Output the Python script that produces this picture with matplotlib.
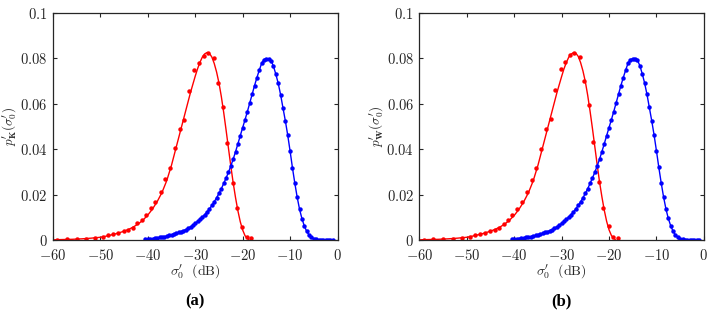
import numpy as np
import matplotlib
matplotlib.use("Agg")
import matplotlib.pyplot as plt

plt.rcParams['mathtext.fontset'] = 'cm'
plt.rcParams['font.family'] = ['DejaVu Serif']

# ---- data ---------------------------------------------------------------
# measured histogram points (red), panel (a)
red_dot_db = [-59.1, -57.1, -55.0, -53.0, -51.1, -49.4, -48.3, -47.3, -46.2,
              -45.1, -44.1, -43.2, -42.2, -41.3, -40.4, -39.4, -38.4, -37.2,
              -36.3, -35.3, -34.3, -33.3, -32.3, -31.3, -30.2, -29.2, -28.2,
              -27.4, -26.1, -25.2, -24.2, -23.3, -22.1, -21.2, -20.1, -19.1,
              -18.2]
red_dot_k = [0.0002, 0.0003, 0.0004, 0.0006, 0.0009, 0.0013, 0.0023, 0.0026,
             0.0032, 0.0038, 0.0045, 0.0053, 0.0073, 0.0088, 0.0110, 0.0140,
             0.0169, 0.0213, 0.0267, 0.0316, 0.0404, 0.0488, 0.0529, 0.0658,
             0.0748, 0.0778, 0.0811, 0.0822, 0.0800, 0.0693, 0.0587, 0.0426,
             0.0250, 0.0140, 0.0059, 0.0012, 0.0007]
red_dot_w = [0.0002, 0.0003, 0.0004, 0.0006, 0.0009, 0.0012, 0.0022, 0.0026,
             0.0031, 0.0038, 0.0044, 0.0052, 0.0072, 0.0087, 0.0108, 0.0138,
             0.0168, 0.0212, 0.0265, 0.0316, 0.0402, 0.0490, 0.0532, 0.0662,
             0.0752, 0.0782, 0.0815, 0.0823, 0.0805, 0.0700, 0.0595, 0.0432,
             0.0255, 0.0142, 0.0060, 0.0013, 0.0007]

# fitted model curve (red line)
red_line_db = [-59.7, -58, -56, -54, -52, -50, -49, -48, -47, -46, -45, -44,
               -43, -42, -41, -40, -39, -38, -37, -36, -35, -34, -33, -32,
               -31, -30, -29.5, -29, -28.5, -28, -27.5, -27, -26.5, -26,
               -25.5, -25, -24.5, -24, -23.5, -23, -22.5, -22, -21.5, -21,
               -20.5, -20, -19.5, -19, -18.7]
red_line_k = [0.0001, 0.0002, 0.0003, 0.0005, 0.0008, 0.0012, 0.0016, 0.0021,
              0.0026, 0.0032, 0.0039, 0.0047, 0.0058, 0.0071, 0.0088, 0.0110,
              0.0137, 0.0170, 0.0210, 0.0262, 0.0330, 0.0410, 0.0490, 0.0570,
              0.0650, 0.0722, 0.0755, 0.0783, 0.0806, 0.0820, 0.0826, 0.0822,
              0.0806, 0.0778, 0.0740, 0.0692, 0.0632, 0.0562, 0.0485, 0.0405,
              0.0326, 0.0252, 0.0186, 0.0128, 0.0080, 0.0044, 0.0019, 0.0006,
              0.0002]
red_line_w = [0.0001, 0.0002, 0.0003, 0.0005, 0.0008, 0.0012, 0.0016, 0.0021,
              0.0026, 0.0032, 0.0039, 0.0047, 0.0057, 0.0070, 0.0087, 0.0108,
              0.0135, 0.0168, 0.0208, 0.0260, 0.0328, 0.0408, 0.0488, 0.0568,
              0.0648, 0.0720, 0.0754, 0.0782, 0.0805, 0.0819, 0.0825, 0.0823,
              0.0809, 0.0782, 0.0745, 0.0698, 0.0638, 0.0568, 0.0492, 0.0412,
              0.0332, 0.0256, 0.0190, 0.0131, 0.0082, 0.0045, 0.0020, 0.0007,
              0.0002]

# blue series, 0.5 dB bins from -40.5 to -1 dB
blue_db = np.linspace(-40.5, -1.0, 80)
blue_k = [0.0003, 0.0004, 0.0005, 0.0006, 0.0008, 0.0009, 0.0011, 0.0013,
          0.0015, 0.0017, 0.0020, 0.0023, 0.0026, 0.0029, 0.0033, 0.0037,
          0.0041, 0.0046, 0.0052, 0.0058, 0.0065, 0.0073, 0.0082, 0.0091,
          0.0101, 0.0112, 0.0124, 0.0137, 0.0152, 0.0168, 0.0186, 0.0205,
          0.0226, 0.0249, 0.0273, 0.0298, 0.0326, 0.0356, 0.0389, 0.0424,
          0.0460, 0.0495, 0.0530, 0.0566, 0.0604, 0.0642, 0.0680, 0.0715,
          0.0748, 0.0778, 0.0795, 0.0798, 0.0798, 0.0790, 0.0765, 0.0730,
          0.0690, 0.0640, 0.0582, 0.0525, 0.0462, 0.0392, 0.0318, 0.0250,
          0.0188, 0.0135, 0.0094, 0.0062, 0.0038, 0.0022, 0.0012, 0.0006,
          0.0003, 0.0001, 0.0, 0.0, 0.0, 0.0, 0.0, 0.0]
blue_w = [0.0003, 0.0004, 0.0005, 0.0006, 0.0008, 0.0009, 0.0011, 0.0013,
          0.0015, 0.0017, 0.0020, 0.0023, 0.0026, 0.0029, 0.0033, 0.0037,
          0.0041, 0.0046, 0.0052, 0.0058, 0.0065, 0.0073, 0.0082, 0.0091,
          0.0101, 0.0112, 0.0124, 0.0137, 0.0152, 0.0168, 0.0186, 0.0205,
          0.0226, 0.0249, 0.0273, 0.0298, 0.0326, 0.0356, 0.0389, 0.0424,
          0.0460, 0.0495, 0.0530, 0.0566, 0.0604, 0.0642, 0.0680, 0.0715,
          0.0748, 0.0778, 0.0795, 0.0799, 0.0799, 0.0792, 0.0768, 0.0733,
          0.0692, 0.0642, 0.0584, 0.0526, 0.0463, 0.0393, 0.0320, 0.0252,
          0.0190, 0.0137, 0.0095, 0.0063, 0.0039, 0.0022, 0.0012, 0.0006,
          0.0003, 0.0001, 0.0, 0.0, 0.0, 0.0, 0.0, 0.0]

x_ticks = [-60, -50, -40, -30, -20, -10, 0]
y_ticks = [0, 0.02, 0.04, 0.06, 0.08, 0.1]
x_ticklabels = ['$-60$', '$-50$', '$-40$', '$-30$', '$-20$', '$-10$', '$0$']
y_ticklabels = ['$0$', '$0.02$', '$0.04$', '$0.06$', '$0.08$', '$0.1$']

panels = [
    ('K', red_line_k, red_dot_k, blue_k, '(a)', 0.0742),
    ('W', red_line_w, red_dot_w, blue_w, '(b)', 0.5873),
]

fig = plt.figure(figsize=(7.14, 3.14), dpi=100)
txt_col = '#262626'

for sub, rline, rdot, blue, tag, left in panels:
    ax = fig.add_axes([left, 0.2357, 0.3985, 0.7229])
    ax.plot(red_line_db, rline, '-', color='red', lw=1.0)
    ax.plot(red_dot_db, rdot, 'o', color='red', ms=3.2, mew=0)
    ax.plot(blue_db, blue, 'o-', color='blue', lw=1.0, ms=3.2, mew=0)

    ax.set_xlim(-60, 0)
    ax.set_ylim(0, 0.1)
    ax.set_xticks(x_ticks)
    ax.set_xticklabels(x_ticklabels)
    ax.set_yticks(y_ticks)
    ax.set_yticklabels(y_ticklabels)
    ax.tick_params(direction='in', top=True, right=True, length=3,
                   width=0.8, labelsize=10.5, colors=txt_col, pad=4)
    ax.tick_params(axis='x', pad=6)
    for s in ax.spines.values():
        s.set_color(txt_col)
        s.set_linewidth(0.9)

    ax.set_xlabel(r"$\sigma_0^{\prime}\ \ (\mathrm{dB})$", fontsize=10,
                  color=txt_col, labelpad=0)
    ax.set_ylabel(r"$p_{\mathbf{%s}}^{\prime}(\sigma_0^{\prime})$" % sub,
                  fontsize=9.5, color=txt_col, labelpad=1)

    fig.text(left + 0.3985 / 2, 0.041, tag, ha='center', va='center',
             fontsize=12, fontweight='bold', family='Liberation Serif')

fig.savefig('out.png', dpi=100)
